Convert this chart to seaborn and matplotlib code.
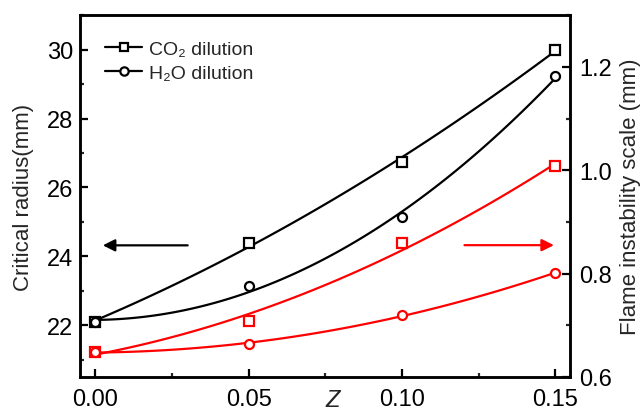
import numpy as np
import pandas as pd
import matplotlib
matplotlib.use("Agg")
import matplotlib.pyplot as plt
import seaborn as sns
from matplotlib.ticker import MultipleLocator
from matplotlib.lines import Line2D

sns.set_theme(style="white")
plt.rcParams['font.family'] = ['Liberation Sans', 'DejaVu Sans']

z = [0.00, 0.05, 0.10, 0.15]
rc_co2 = [22.1, 24.4, 26.75, 30.0]
rc_h2o = [22.1, 23.13, 25.13, 29.22]
lf_co2 = [0.648, 0.708, 0.859, 1.008]
lf_h2o = [0.648, 0.664, 0.720, 0.801]

fig, ax = plt.subplots(figsize=(6.41, 4.14), dpi=100)
fig.subplots_adjust(left=0.125, right=0.89, top=0.961, bottom=0.087)
ax2 = ax.twinx()

lw = 1.6
ms = 6.5
for y, m in [(rc_co2, 's'), (rc_h2o, 'o')]:
    sns.regplot(x=z, y=y, order=2, ci=None, ax=ax, scatter=False, truncate=True,
                line_kws=dict(color='black', lw=lw))
    ax.plot(z, y, ls='none', marker=m, ms=ms, mfc='white', mec='black', mew=1.6, zorder=5)
for y, m in [(lf_co2, 's'), (lf_h2o, 'o')]:
    sns.regplot(x=z, y=y, order=2, ci=None, ax=ax2, scatter=False, truncate=True,
                line_kws=dict(color='red', lw=lw))
    ax2.plot(z, y, ls='none', marker=m, ms=ms, mfc='white', mec='red', mew=1.6, zorder=5)

ax.set_xlim(-0.005, 0.155)
ax.set_ylim(20.5, 31)
ax2.set_ylim(0.6, 1.3)
ax.set_xticks([0.00, 0.05, 0.10, 0.15])
ax.set_xticklabels(['0.00', '0.05', '0.10', '0.15'])
ax.xaxis.set_minor_locator(MultipleLocator(0.025))
ax.set_yticks([22, 24, 26, 28, 30])
ax.yaxis.set_minor_locator(MultipleLocator(1))
ax2.set_yticks([0.6, 0.8, 1.0, 1.2])
ax2.set_yticklabels(['0.6', '0.8', '1.0', '1.2'])
ax2.yaxis.set_minor_locator(MultipleLocator(0.1))

fs = 17
for a in (ax, ax2):
    for s in a.spines.values():
        s.set_linewidth(1.8)
        s.set_color('black')
    a.tick_params(which='major', direction='in', length=6, width=1.6, labelsize=fs, colors='black')
    a.tick_params(which='minor', direction='in', length=3, width=1.6)
ax.tick_params(axis='y', which='both', left=True, right=False, pad=5)
ax.tick_params(axis='x', which='both', bottom=True, top=False, pad=8)
ax2.tick_params(axis='y', which='both', right=True, left=False, pad=6)

ax.set_xlabel('Z', fontsize=fs, style='italic')
ax.xaxis.set_label_coords(0.515, -0.094, transform=ax.transAxes)
ax.xaxis.label.set_verticalalignment('bottom')
ax.set_ylabel('Critical radius(mm)', fontsize=16, labelpad=9)
ax2.set_ylabel('Flame instability scale (mm)', fontsize=16, labelpad=6)

ax.annotate('', xy=(0.0015, 24.32), xytext=(0.031, 24.32),
            arrowprops=dict(arrowstyle='-|>', color='black', lw=1.6, mutation_scale=18))
ax2.annotate('', xy=(0.1505, 0.855), xytext=(0.1195, 0.855),
             arrowprops=dict(arrowstyle='-|>', color='red', lw=1.6, mutation_scale=18))

handles = [Line2D([], [], color='black', lw=lw, marker='s', ms=6, mfc='white', mec='black', mew=1.6),
           Line2D([], [], color='black', lw=lw, marker='o', ms=6, mfc='white', mec='black', mew=1.6)]
ax.legend(handles, ['CO₂ dilution', 'H₂O dilution'], loc='upper left', frameon=False,
          fontsize=14, handlelength=1.9, handletextpad=0.35, borderaxespad=0.0,
          labelspacing=0.3, bbox_to_anchor=(0.035, 0.951))

fig.savefig('out.png', dpi=100)
